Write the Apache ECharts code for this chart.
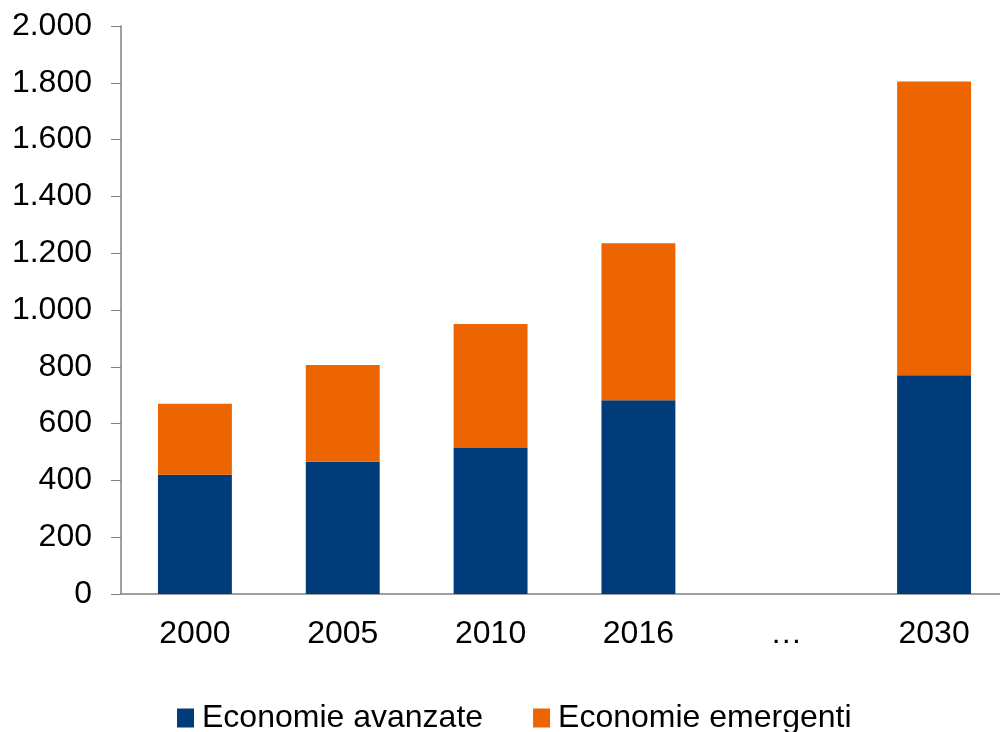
<!DOCTYPE html>
<html>
<head>
<meta charset="utf-8">
<script src="https://cdn.jsdelivr.net/npm/echarts@6/dist/echarts.min.js"></script>
<style>
    html, body { margin: 0; padding: 0; background: #fff; overflow: hidden; }
    #chart { width: 1008px; height: 732px; }
</style>
</head>
<body>
<div id="chart"></div>
<script>
var years = ["2000", "2005", "2010", "2016", "…", "2030"];
var avanzate = [420, 466, 514, 682, null, 770];
var emergenti = [250, 340, 437, 553, null, 1035];
var yTicks = [0, 200, 400, 600, 800, 1000, 1200, 1400, 1600, 1800, 2000];

var fmt = function (v) {
    return String(v).replace(/\B(?=(\d{3})+(?!\d))/g, ".");
};

var myChart = echarts.init(document.getElementById("chart"));
var option = {
    animation: false,
    textStyle: { fontFamily: "Liberation Sans, Arial, sans-serif" },
    grid: { left: 121, top: 26, right: 0, height: 568 },
    legend: {
        left: 177,
        top: 702,
        padding: 0,
        itemWidth: 17,
        itemHeight: 19,
        itemGap: 50,
        icon: "rect",
        textStyle: { fontSize: 32, color: "#000", padding: [0, 0, 0, 3] },
        data: ["Economie avanzate", "Economie emergenti"]
    },
    xAxis: {
        type: "category",
        data: years,
        axisLine: { lineStyle: { color: "#808080", width: 1.5 } },
        axisTick: { length: 10, lineStyle: { color: "#808080" } },
        axisLabel: { fontSize: 32, color: "#000", margin: 24 }
    },
    yAxis: {
        type: "value",
        min: yTicks[0],
        max: yTicks[yTicks.length - 1],
        interval: 200,
        splitLine: { show: false },
        axisLine: { show: true, lineStyle: { color: "#808080", width: 1.5 } },
        axisTick: { show: true, length: 10, lineStyle: { color: "#808080" } },
        axisLabel: { fontSize: 32, color: "#000", margin: 29, formatter: fmt }
    },
    series: [
        {
            name: "Economie avanzate",
            type: "bar",
            stack: "tot",
            barWidth: "50%",
            itemStyle: { color: "#003B7A" },
            data: avanzate
        },
        {
            name: "Economie emergenti",
            type: "bar",
            stack: "tot",
            barWidth: "50%",
            itemStyle: { color: "#EC6500" },
            data: emergenti
        }
    ]
};
myChart.setOption(option);
</script>
</body>
</html>
